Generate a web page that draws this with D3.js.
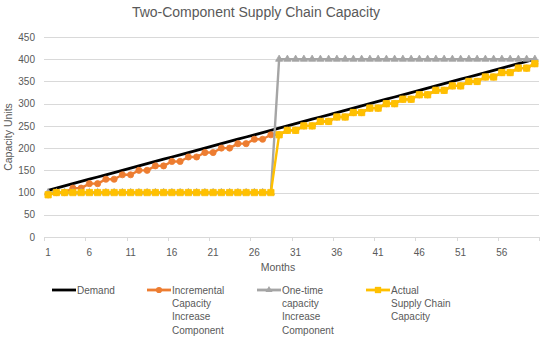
<!DOCTYPE html>
<html>
<head>
<meta charset="utf-8">
<script src="https://cdn.jsdelivr.net/npm/d3@7"></script>
<style>
  body { margin: 0; background: #fff; }
  text { font-family: "Liberation Sans", Arial, sans-serif; fill: #595959; }
</style>
</head>
<body>
<div id="chart"></div>
<script>
const width = 550;
const height = 338;
const margin = { top: 37, right: 11, bottom: 101, left: 44 };

// data
const months = [1,2,3,4,5,6,7,8,9,10,11,12,13,14,15,16,17,18,19,20,
  21,22,23,24,25,26,27,28,29,30,31,32,33,34,35,36,37,38,39,40,
  41,42,43,44,45,46,47,48,49,50,51,52,53,54,55,56,57,58,59,60];
const demand = [105,110,115,120,125,130,135,140,145,150,155,160,165,170,175,180,185,190,195,200,
  205,210,215,220,225,230,235,240,245,250,255,260,265,270,275,280,285,290,295,300,
  305,310,315,320,325,330,335,340,345,350,355,360,365,370,375,380,385,390,395,400];
const incremental = [95,100,100,110,110,120,120,130,130,140,140,150,150,160,160,170,170,180,180,190,
  190,200,200,210,210,220,220,230,230,240,240,250,250,260,260,270,270,280,280,290,
  290,300,300,310,310,320,320,330,330,340,340,350,350,360,360,370,370,380,380,390];
const oneTime = [100,100,100,100,100,100,100,100,100,100,100,100,100,100,100,100,100,100,100,100,
  100,100,100,100,100,100,100,100,400,400,400,400,400,400,400,400,400,400,400,400,
  400,400,400,400,400,400,400,400,400,400,400,400,400,400,400,400,400,400,400,400];
const actual = [95,100,100,100,100,100,100,100,100,100,100,100,100,100,100,100,100,100,100,100,
  100,100,100,100,100,100,100,100,230,240,240,250,250,260,260,270,270,280,280,290,
  290,300,300,310,310,320,320,330,330,340,340,350,350,360,360,370,370,380,380,390];
const yTicks = [0,50,100,150,200,250,300,350,400,450];
const xTickLabels = [1,6,11,16,21,26,31,36,41,46,51,56];

const series = [
  { name: ["Demand"], values: demand, color: "#000000", marker: "none", lx: 52 },
  { name: ["Incremental", "Capacity", "Increase", "Component"], values: incremental, color: "#ED7D31", marker: "circle", lx: 147 },
  { name: ["One-time", "capacity", "Increase", "Component"], values: oneTime, color: "#A5A5A5", marker: "triangle", lx: 257 },
  { name: ["Actual", "Supply Chain", "Capacity"], values: actual, color: "#FFC000", marker: "square", lx: 366 }
];

const svg = d3.select("#chart").append("svg")
  .attr("width", width)
  .attr("height", height);

const x = d3.scaleBand()
  .domain(months)
  .range([margin.left, width - margin.right]);
const xc = m => x(m) + x.bandwidth() / 2;

const y = d3.scaleLinear()
  .domain([0, 450])
  .range([height - margin.bottom, margin.top]);

// gridlines
svg.append("g")
  .selectAll("line")
  .data(yTicks.filter(d => d > 0))
  .join("line")
  .attr("x1", margin.left)
  .attr("x2", width - margin.right)
  .attr("y1", d => Math.round(y(d)) + 0.5)
  .attr("y2", d => Math.round(y(d)) + 0.5)
  .attr("stroke", "#D9D9D9")
  .attr("stroke-width", 1);

// y axis labels
const yAxis = d3.axisLeft(y).tickValues(yTicks).tickSize(0).tickPadding(9);
const yAxisGroup = svg.append("g")
  .attr("transform", `translate(${margin.left}, 0)`)
  .call(yAxis);
yAxisGroup.select(".domain").remove();
yAxisGroup.selectAll("text")
  .style("font-size", "10px")
  .style("font-family", "Liberation Sans, Arial, sans-serif")
  .attr("fill", "#595959");

// x axis: line, ticks every 5 categories, labels
const xAxisGroup = svg.append("g");
xAxisGroup.append("line")
  .attr("x1", margin.left)
  .attr("x2", width - margin.right)
  .attr("y1", Math.round(y(0)) + 0.5)
  .attr("y2", Math.round(y(0)) + 0.5)
  .attr("stroke", "#D9D9D9");

const tickMonths = months.filter(m => (m - 1) % 5 === 0);
xAxisGroup.selectAll(".tick-mark")
  .data(tickMonths.concat([61]))
  .join("line")
  .attr("class", "tick-mark")
  .attr("x1", d => Math.round(d === 61 ? width - margin.right : x(d)) + 0.5)
  .attr("x2", d => Math.round(d === 61 ? width - margin.right : x(d)) + 0.5)
  .attr("y1", y(0))
  .attr("y2", y(0) + 4)
  .attr("stroke", "#D9D9D9");

xAxisGroup.selectAll(".tick-label")
  .data(xTickLabels)
  .join("text")
  .attr("class", "tick-label")
  .attr("x", d => xc(d))
  .attr("y", y(0) + 19)
  .attr("text-anchor", "middle")
  .style("font-size", "10px")
  .text(d => d);

// series lines
const line = d3.line()
  .x((d, i) => xc(months[i]))
  .y(d => y(d));

const markerPath = {
  circle: d3.symbol(d3.symbolCircle, 30),
  triangle: d3.symbol(d3.symbolTriangle, 22),
  square: d3.symbol(d3.symbolSquare, 40)
};

series.forEach(s => {
  const g = svg.append("g");
  g.append("path")
    .datum(s.values)
    .attr("d", line)
    .attr("fill", "none")
    .attr("stroke", s.color)
    .attr("stroke-width", s.marker === "none" ? 2.8 : 2.4)
    .attr("stroke-linejoin", "round");
  if (s.marker !== "none") {
    g.selectAll("path.mk")
      .data(s.values)
      .join("path")
      .attr("class", "mk")
      .attr("d", markerPath[s.marker])
      .attr("transform", (d, i) => `translate(${xc(months[i])}, ${y(d)})`)
      .attr("fill", s.color)
      .attr("stroke", s.color)
      .attr("stroke-width", 0.8);
  }
});

// titles
svg.append("text")
  .attr("x", 256)
  .attr("y", 17)
  .attr("text-anchor", "middle")
  .style("font-size", "14px")
  .text("Two-Component Supply Chain Capacity");

svg.append("text")
  .attr("transform", `translate(12, ${(y(0) + y(450)) / 2}) rotate(-90)`)
  .attr("text-anchor", "middle")
  .style("font-size", "10.5px")
  .text("Capacity Units");

svg.append("text")
  .attr("x", 278)
  .attr("y", 271)
  .attr("text-anchor", "middle")
  .style("font-size", "10.5px")
  .text("Months");

// legend
const legend = svg.append("g");
series.forEach(s => {
  const ly = 290;
  legend.append("line")
    .attr("x1", s.lx)
    .attr("x2", s.lx + 24)
    .attr("y1", ly)
    .attr("y2", ly)
    .attr("stroke", s.color)
    .attr("stroke-width", 2.8);
  if (s.marker !== "none") {
    legend.append("path")
      .attr("d", markerPath[s.marker])
      .attr("transform", `translate(${s.lx + 12}, ${ly})`)
      .attr("fill", s.color);
  }
  const t = legend.append("text")
    .attr("x", s.lx + 25)
    .attr("y", ly + 3.5)
    .style("font-size", "10px");
  s.name.forEach((w, i) => {
    t.append("tspan")
      .attr("x", s.lx + 25)
      .attr("dy", i === 0 ? 0 : 13.4)
      .text(w);
  });
});
</script>
</body>
</html>
